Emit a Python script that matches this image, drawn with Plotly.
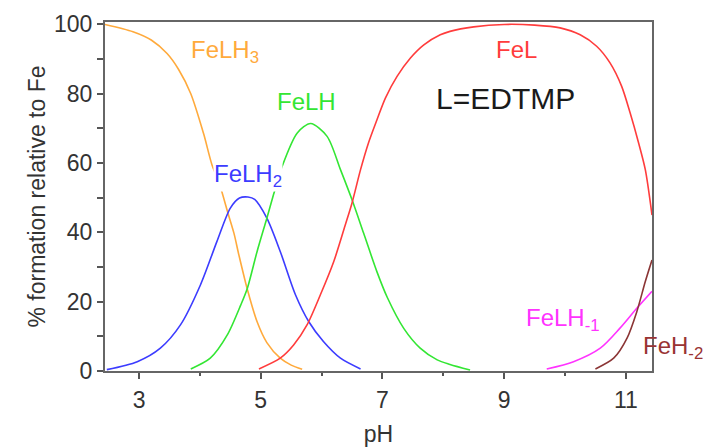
import plotly.graph_objects as go

# ---- data ----
ph_felh3 = [2.44, 2.9, 3.2, 3.46, 3.65, 3.85, 4.06, 4.2, 4.31, 4.47, 4.56, 4.64, 4.78, 4.94, 5.1, 5.32, 5.5, 5.68]
val_felh3 = [100, 97.9, 95.5, 91.6, 87, 80, 68.5, 59.4, 54.6, 45, 39.7, 33.5, 23.5, 14.2, 8.2, 3.7, 1.7, 0.5]

ph_felh2 = [2.47, 2.97, 3.35, 3.68, 4.01, 4.28, 4.5, 4.65, 4.79, 4.9, 5.1, 5.32, 5.57, 5.79, 6.03, 6.31, 6.64]
val_felh2 = [0.4, 2.7, 6.6, 13.3, 24.9, 37.4, 47, 49.9, 50.2, 49.5, 44.1, 34.5, 22, 14.2, 8.5, 3.7, 0.6]

ph_felh = [3.85, 4.17, 4.45, 4.67, 4.78, 4.94, 5.1, 5.21, 5.35, 5.6, 5.82, 6.09, 6.31, 6.5, 6.69, 6.91, 7.08, 7.35, 7.62, 7.9, 8.11, 8.44]
val_felh = [0.6, 3.7, 10.4, 19, 23.9, 34.5, 44.1, 50.9, 59, 68.7, 71.4, 67.7, 58.1, 49.4, 39.8, 28.6, 21.2, 12.3, 6.6, 3.2, 1.9, 0.3]

ph_fel = [4.97, 5.32, 5.54, 5.76, 5.98, 6.2, 6.39, 6.5, 6.64, 6.77, 6.91, 7.05, 7.24, 7.46, 7.68, 7.95, 8.11, 8.5, 9.0, 9.5, 9.92, 10.25, 10.52, 10.74, 10.93, 11.07, 11.21, 11.32, 11.43]
val_fel = [0.6, 3.7, 7.5, 13.3, 22, 31.6, 42.2, 48.5, 58.1, 65.8, 72.5, 78.8, 85, 90.3, 94.1, 97, 98, 99.3, 100, 99.8, 99, 97, 93.7, 88.9, 82.2, 74.5, 65.8, 58.1, 45]

ph_felhm1 = [9.7, 10.14, 10.58, 10.9, 11.18, 11.43]
val_felhm1 = [0.6, 2.7, 6.6, 12.3, 18.1, 23]

ph_feh_m2 = [10.5, 10.8, 11.02, 11.18, 11.32, 11.43]
val_feh_m2 = [0.6, 3.7, 9.5, 17.1, 25.8, 32]

x_ticks = [3, 5, 7, 9, 11]
x_minor = [4, 6, 8, 10]
y_ticks = [0, 20, 40, 60, 80, 100]
y_minor = [10, 30, 50, 70, 90]

FONT = "Liberation Sans, Arial, sans-serif"

series = [
    (ph_felh3, val_felh3, "#FFAA3C"),
    (ph_felh2, val_felh2, "#3C3CFF"),
    (ph_felh, val_felh, "#33E633"),
    (ph_fel, val_fel, "#FF3C3C"),
    (ph_felhm1, val_felhm1, "#FF33FF"),
    (ph_feh_m2, val_feh_m2, "#8B3535"),
]

fig = go.Figure()
for xs, ys, col in series:
    fig.add_trace(go.Scatter(x=xs, y=ys, mode="lines",
                             line=dict(color=col, width=1.6, shape="spline", smoothing=0.8),
                             showlegend=False, hoverinfo="skip"))

labels = [
    ("FeLH<sub>3</sub>", 3.83, 92.2, "left", "#FFAA3C", 24, None),
    ("FeLH", 5.75, 77.8, "center", "#33E633", 24, None),
    ("FeLH<sub>2</sub>", 4.22, 56.5, "left", "#3C3CFF", 24, "white"),
    ("FeL", 9.2, 92.8, "center", "#FF3C3C", 24, None),
    ("L=EDTMP", 9.02, 78.5, "center", "#1A1A1A", 30, None),
    ("FeLH<sub>-1</sub>", 9.34, 15.0, "left", "#FF33FF", 24, None),
    ("FeH<sub>-2</sub>", 11.27, 6.7, "left", "#993333", 24, None),
]
for txt, x, y, anc, col, size, bg in labels:
    fig.add_annotation(x=x, y=y, text=txt, showarrow=False, xanchor=anc, yanchor="middle",
                       font=dict(family=FONT, size=size, color=col),
                       bgcolor=bg if bg else "rgba(0,0,0,0)", borderpad=0)

fig.update_layout(
    width=705, height=448,
    margin=dict(l=104.5, r=53, t=22, b=76.5),
    paper_bgcolor="white", plot_bgcolor="white",
    font=dict(family=FONT, color="#333333"),
)
fig.update_xaxes(range=[2.44, 11.43], tickvals=x_ticks, ticks="outside", ticklen=6,
                 tickwidth=1.5, tickcolor="#555555", ticklabelstandoff=1,
                 minor=dict(tickvals=x_minor, ticks="outside", ticklen=3, tickwidth=1.5, tickcolor="#555555"),
                 showline=True, linecolor="#666666", linewidth=2, mirror=True,
                 showgrid=False, zeroline=False, automargin=False,
                 tickfont=dict(family=FONT, size=23, color="#333333"),
                 title=dict(text="pH", font=dict(family=FONT, size=23, color="#333333"), standoff=14))
fig.update_yaxes(range=[0, 100.7], tickvals=y_ticks, ticks="outside", ticklen=6,
                 tickwidth=1.5, tickcolor="#555555",
                 minor=dict(tickvals=y_minor, ticks="outside", ticklen=6, tickwidth=1.5, tickcolor="#555555"),
                 showline=True, linecolor="#666666", linewidth=2, mirror=True,
                 showgrid=False, zeroline=False, automargin=False,
                 tickfont=dict(family=FONT, size=23, color="#333333"),
                 title=dict(text="% formation relative to Fe", font=dict(family=FONT, size=23, color="#333333"), standoff=2))

fig.write_html("out.html", config={"displayModeBar": False},
               post_script="document.body.style.margin='0';document.body.style.overflow='hidden';")
